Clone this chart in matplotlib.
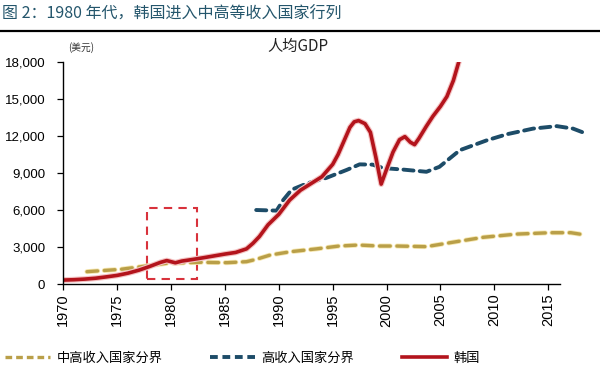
import numpy as np
import matplotlib
matplotlib.use("Agg")
from matplotlib import pyplot as plt
from matplotlib.lines import Line2D
from matplotlib.patches import Rectangle
import matplotlib.patheffects as pe

plt.rcParams['font.family'] = ['Liberation Sans', 'Noto Sans CJK SC', 'DejaVu Sans']
CJK = ['Noto Sans CJK SC', 'DejaVu Sans']

# Korea GDP per capita (USD), positions
kr_year = [1970, 1971, 1972, 1973, 1974, 1975, 1976, 1977, 1978, 1979, 1979.6,
           1980.4, 1981, 1982, 1983, 1984, 1985, 1986, 1987, 1987.6, 1988.2,
           1989, 1990, 1991, 1992, 1993, 1994, 1995, 1995.5, 1996.1, 1996.6,
           1997.0, 1997.4, 1998.0, 1998.5, 1999.0, 1999.5, 2000.0, 2000.6,
           2001.2, 2001.7, 2002.2, 2002.6, 2003.0, 2003.7, 2004.3, 2005.0,
           2005.6, 2006.2, 2006.7]
kr_val = [320, 350, 400, 470, 580, 700, 880, 1120, 1420, 1750, 1900,
          1720, 1860, 1990, 2130, 2280, 2430, 2560, 2850, 3300, 3850,
          4800, 5650, 6800, 7600, 8150, 8700, 9700, 10500, 11700, 12700,
          13150, 13250, 13000, 12300, 10300, 8100, 9300, 10700,
          11700, 11950, 11500, 11300, 11800, 12800, 13600, 14400,
          15200, 16500, 18000]

# high-income threshold
hi_year = [1987.9, 1989.8, 1990.4, 1991.2, 1992.6, 1994.4, 1996.3, 1997.5,
           1998.7, 1999.7, 2001.5, 2003.7, 2004.9, 2006.8, 2009.3, 2011.2,
           2013.6, 2015.8, 2017.3, 2018.5]
hi_val = [6000, 5950, 6800, 7650, 8150, 8600, 9250, 9700,
          9680, 9400, 9280, 9100, 9500, 10850, 11650, 12150,
          12600, 12800, 12600, 12200]

# upper-middle-income threshold
mid_year = [1972.2, 1975.3, 1977.7, 1979.6, 1982.7, 1985.2, 1987.0, 1987.9,
            1989.2, 1991.1, 1993.5, 1995.6, 1997.4, 1999.3, 2000.9, 2003.7,
            2005.9, 2009.0, 2012.1, 2015.2, 2017.1, 2018.5]
mid_val = [1000, 1190, 1460, 1680, 1760, 1730, 1810, 2000,
           2350, 2620, 2850, 3080, 3160, 3080, 3080, 3030,
           3350, 3790, 4050, 4160, 4160, 3970]

year_ticks = list(range(1970, 2016, 5))
y_ticks = [0, 3000, 6000, 9000, 12000, 15000, 18000]

# highlighted 1980s box
box_x = [1977.75, 1982.4]
box_y = [380, 6130]

labels = ['中高收入国家分界', '高收入国家分界', '韩国']
c_mid = '#b99f48'
c_hi = '#1d4c68'
c_kr = '#b3141c'

fig = plt.figure(figsize=(6, 3.66), dpi=100)
ax = fig.add_axes([0.1055, 0.224, 0.880, 0.6066])

ax.plot(mid_year, mid_val, color=c_mid, lw=2.4, dashes=(3.2, 2.0),
        solid_capstyle='round', dash_capstyle='round',
        path_effects=[pe.Stroke(linewidth=3.6, foreground='#f6e7b0'), pe.Normal()])
ax.plot(hi_year, hi_val, color=c_hi, lw=2.8, dashes=(2.6, 1.6),
        dash_capstyle='round')
ax.plot(kr_year, kr_val, color=c_kr, lw=2.6, solid_joinstyle='round',
        path_effects=[pe.Stroke(linewidth=4.2, foreground='#f4c4c4'), pe.Normal()])

ax.add_patch(Rectangle((box_x[0], box_y[0]), box_x[1] - box_x[0], box_y[1] - box_y[0],
                       fill=False, edgecolor='#d8323c', lw=1.5, ls=(0, (4, 3))))

ax.set_xlim(1970, 2019)
ax.set_ylim(0, 18000)
ax.set_xticks(year_ticks)
ax.set_xticklabels([str(y) for y in year_ticks], rotation=90, fontsize=10.5)
ax.set_yticks(y_ticks)
ax.set_yticklabels([f'{v:,}' for v in y_ticks], fontsize=9.5)
ax.tick_params(axis='both', direction='out', length=4, width=0.9, color='black')
ax.tick_params(axis='y', pad=9)
ax.tick_params(axis='x', pad=3)
for s in ['top', 'right']:
    ax.spines[s].set_visible(False)
ax.spines['bottom'].set_bounds(1970, 2016.1)
ax.spines['left'].set_linewidth(1.0)
ax.spines['bottom'].set_linewidth(1.0)

fig.text(0.113, 0.862, '(美元)', fontsize=7, family=CJK, color='#333333')
fig.text(0.497, 0.862, '人均GDP', fontsize=11, family=CJK, ha='center', color='#222222')

fig.text(0.004, 0.985, '图 2：1980 年代，韩国进入中高等收入国家行列', fontsize=11.5,
         family=CJK, color='#24566c', va='top', weight='medium')
fig.add_artist(Line2D([0.0, 1.0], [0.915, 0.915], color='black', lw=1.6,
                      transform=fig.transFigure))

handles = [
    Line2D([], [], color=c_mid, lw=2.4, dashes=(2.0, 1.2)),
    Line2D([], [], color=c_hi, lw=2.8, dashes=(2.0, 1.2)),
    Line2D([], [], color=c_kr, lw=2.6),
]
leg = fig.legend(handles, labels, loc='lower left', bbox_to_anchor=(0.0, -0.012),
                 borderaxespad=0, ncol=3, frameon=False, handlelength=3.4,
                 handletextpad=0.5, columnspacing=3.6,
                 prop={'family': CJK, 'size': 9.5})

fig.savefig('out.png', dpi=100)
